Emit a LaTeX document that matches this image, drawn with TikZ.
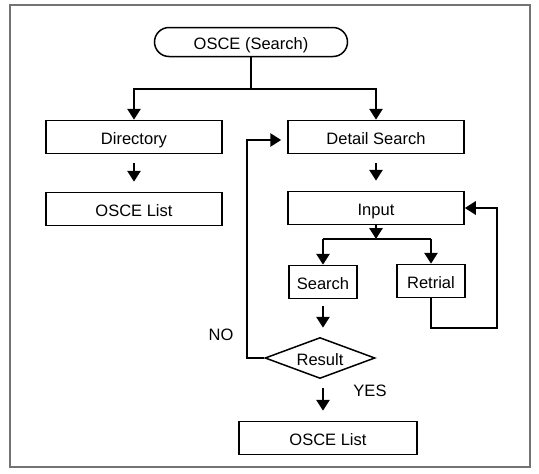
\documentclass[tikz,border=0pt]{standalone}
\usepackage{fontspec}
\setmainfont{Liberation Sans}
\usetikzlibrary{arrows.meta,shapes.geometric,shapes.misc,calc}

\tikzset{
  txt/.style={font=\fontsize{16.5}{18}\selectfont, text height=16pt, text depth=2pt},
  box/.style={draw=black, line width=1.5pt, rectangle, minimum height=33pt, inner sep=0pt, txt},
  terminal/.style={draw=black, line width=1.5pt, rounded rectangle, minimum width=193pt, minimum height=29pt, inner sep=0pt, txt},
  decision/.style={draw=black, line width=1.5pt, diamond, aspect=2.7, minimum width=110pt, minimum height=41pt, inner sep=0pt, txt},
  link/.style={draw=black, line width=2.8pt},
  arr/.style={link, -{Triangle[width=13pt,length=11pt]}},
  lbl/.style={txt, inner sep=0pt},
}

\begin{document}
\begin{tikzpicture}[x=1pt, y=-1pt]
  \useasboundingbox (0,0) rectangle (539,474);
  % outer frame
  \draw[draw=black!55, line width=1.3pt] (10,5) rectangle (530,467);

  % nodes
  \node[terminal] (start) at (251,42) {OSCE (Search)};
  \node[box, minimum width=176pt] (dir)    at (134,137) {Directory};
  \node[box, minimum width=176pt] (list1)  at (134,209) {OSCE List};
  \node[box, minimum width=176pt] (detail) at (376,137) {Detail Search};
  \node[box, minimum width=176pt] (input)  at (376,208) {Input};
  \node[box, minimum width=68pt]  (search) at (323,282) {Search};
  \node[box, minimum width=68pt]  (retry)  at (431,281) {Retrial};
  \node[decision] (res) at (320,358) {Result};
  \node[box, minimum width=178pt] (list2)  at (328,438) {OSCE List};

  \node[lbl] (no)  at (221,333) {NO};
  \node[lbl] (yes) at (370,389) {YES};

  % branch points
  \coordinate (fork) at (251,89);
  \coordinate (split) at (376,239);
  \coordinate (loopA) at (497,328);
  \coordinate (noX) at (247,140);

  % start -> Directory / Detail Search
  \draw[link] (start.south) -- (fork);
  \draw[arr] (fork) -| (dir.north);
  \draw[arr] (fork) -| (detail.north);

  % straight steps
  \draw[arr] ([yshift=-9pt]dir.south) -- ([yshift=10pt]list1.north);
  \draw[arr] ([yshift=-9pt]detail.south) -- ([yshift=10pt]input.north);

  % Input -> Search / Retrial
  \draw[arr] (input.south) -- (split);
  \draw[link] (search.north |- split) -- (retry.north |- split);
  \draw[arr] (search.north |- split) -- (search.north);
  \draw[arr] (retry.north |- split) -- (retry.north);

  % Retrial loops back to Input
  \draw[arr] (retry.south) |- (loopA) |- (input.east);

  % Search -> Result
  \draw[arr] ([yshift=-7pt]search.south) -- ([yshift=9pt]search.south |- res.north);

  % Result NO -> Detail Search
  \draw[arr] (res.west) -| (noX) -- ([xshift=-6pt]detail.west |- noX);

  % Result YES -> OSCE List
  \draw[arr] ([xshift=3pt,yshift=-9pt]res.south) -- ([xshift=3pt,yshift=10pt]res.south |- list2.north);
\end{tikzpicture}
\end{document}
